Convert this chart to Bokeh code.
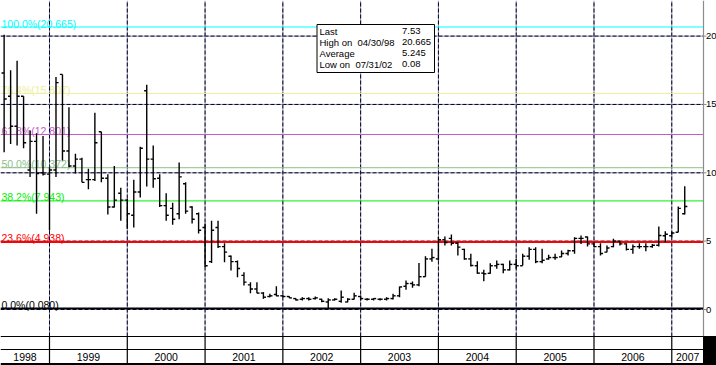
import numpy as np
import pandas as pd
from bokeh.plotting import figure
from bokeh.models import Range1d
from bokeh.core.properties import value
from bokeh.embed import file_html
from bokeh.resources import INLINE

# ---------------- data (monthly OHLC, May 1998 .. Feb 2007) ----------------
months = pd.period_range("1998-05", periods=106, freq="M")
opens = [17.3, 15.6, 13.4, 15.6, 10.2, 12.3, 10.0, 9.9, 10.2, 17.2,
         11.6, 10.5, 11.0, 9.5, 9.5, 13.0, 9.6, 7.5, 8.5, 8.0,
         6.9, 8.6, 16.0, 11.0, 9.6, 7.6, 7.4, 7.0, 9.2, 7.5,
         7.0, 6.0, 3.5, 6.0, 4.6, 3.9, 3.5, 2.5, 1.8, 1.5,
         1.2, 0.95, 1.1, 1.0, 0.95, 0.8, 0.75, 0.8, 0.8, 0.75,
         0.55, 0.7, 0.6, 0.55, 0.75, 0.95, 0.75, 0.75, 0.75, 0.75,
         0.8, 1.0, 1.7, 1.9, 1.8, 2.4, 3.7, 3.7, 5.1, 5.2,
         4.85, 4.4, 3.7, 3.2, 2.66, 2.65, 3.2, 3.3, 2.9, 3.3,
         3.2, 3.9, 4.4, 3.5, 3.7, 3.8, 3.85, 4.1, 4.3, 5.2,
         5.3, 4.8, 4.6, 4.2, 4.6, 5.0, 4.8, 4.4, 4.6, 4.6,
         4.6, 4.7, 5.4, 5.4, 5.65, 7.0]
highs = [20.1, 17.5, 18.2, 15.6, 13.1, 12.9, 12.7, 10.4, 17.0, 17.2,
         14.8, 11.4, 11.1, 10.3, 14.4, 13.0, 9.9, 10.5, 8.9, 8.1,
         9.5, 11.9, 16.45, 12.0, 9.9, 8.5, 7.8, 10.75, 9.3, 7.55,
         7.1, 6.3, 6.5, 6.5, 4.85, 3.95, 3.58, 2.73, 2.0, 2.0,
         1.27, 1.15, 1.7, 1.08, 0.97, 0.83, 0.9, 0.9, 0.95, 0.78,
         0.83, 0.83, 1.39, 0.83, 1.22, 1.02, 0.83, 0.83, 0.83, 0.9,
         1.15, 1.68, 2.12, 2.05, 3.4, 3.9, 4.45, 5.3, 5.34, 5.49,
         4.92, 4.44, 4.07, 3.53, 2.9, 3.39, 3.58, 3.34, 3.58, 3.7,
         4.07, 4.56, 4.56, 4.44, 4.0, 4.07, 4.32, 4.37, 5.29, 5.41,
         5.34, 4.92, 4.85, 4.68, 5.17, 5.0, 4.85, 4.75, 4.85, 4.85,
         4.8, 6.07, 5.73, 5.7, 7.53, 9.02]
lows = [11.5, 12.1, 12.0, 11.8, 9.7, 7.0, 9.8, 5.8, 9.7, 10.9,
        10.4, 9.95, 9.3, 8.8, 9.4, 9.3, 6.95, 7.46, 6.5, 5.9,
        6.0, 8.2, 9.0, 8.9, 7.5, 6.5, 6.2, 6.6, 7.0, 6.3,
        5.56, 3.1, 3.4, 4.5, 3.46, 2.85, 2.36, 1.76, 1.19, 1.19,
        0.78, 0.9, 0.97, 0.9, 0.83, 0.66, 0.66, 0.66, 0.73, 0.53,
        0.08, 0.66, 0.49, 0.53, 0.73, 0.66, 0.66, 0.66, 0.66, 0.66,
        0.73, 0.9, 1.44, 1.59, 1.7, 2.4, 3.5, 3.6, 4.68, 4.68,
        3.95, 3.64, 3.15, 2.61, 2.07, 2.61, 2.98, 2.66, 2.85, 2.98,
        3.22, 3.64, 3.39, 3.39, 3.64, 3.64, 3.83, 3.95, 4.07, 4.8,
        4.61, 4.56, 3.95, 4.19, 4.56, 4.68, 4.32, 4.07, 4.44, 4.27,
        4.51, 4.6, 4.92, 5.29, 5.65, 6.95]
closes = [15.4, 13.4, 15.6, 12.2, 12.3, 9.95, 9.9, 10.2, 16.6, 11.6,
          10.5, 11.0, 9.3, 9.5, 12.2, 9.6, 7.5, 8.0, 8.0, 7.0,
          8.6, 11.8, 11.0, 9.56, 7.6, 6.9, 6.6, 9.7, 7.2, 6.6,
          5.8, 3.2, 5.8, 4.6, 4.2, 3.5, 3.0, 2.0, 1.5, 1.2,
          0.9, 1.0, 1.0, 0.95, 0.85, 0.7, 0.8, 0.75, 0.85, 0.6,
          0.7, 0.75, 0.9, 0.75, 1.0, 0.8, 0.75, 0.8, 0.75, 0.8,
          1.0, 1.65, 1.9, 1.8, 2.4, 3.7, 3.8, 5.1, 4.9, 4.85,
          4.56, 3.7, 3.22, 2.66, 2.61, 3.2, 3.3, 2.9, 3.3, 3.2,
          3.9, 4.4, 3.5, 3.6, 3.8, 3.8, 4.1, 4.3, 5.2, 5.2,
          4.8, 4.6, 4.1, 4.5, 5.0, 4.8, 4.4, 4.6, 4.6, 4.6,
          4.7, 5.41, 5.5, 5.6, 7.4, 7.53]

fib_levels = [100.0, 76.4, 61.8, 50.0, 38.2, 23.6, 0.0]
fib_prices = [20.665, 15.807, 12.801, 10.372, 7.943, 4.938, 0.080]
fib_colors = ["#00FFFF", "#EEEE9A", "#C85AC8", "#8CC08C", "#00F000", "#FF0000", "#000000"]
fib_widths = [1, 1, 1, 1, 1, 2, 1.6]

y_ticks = [0, 5, 10, 15, 20]

summary_labels = ["Last", "High on \u00a004/30/98", "Average", "Low on \u00a007/31/02"]
summary_values = ["7.53", "20.665", "5.245", "0.08"]

# ---------------- layout (screen geometry) ----------------
W, H = 716, 365
PLOT_R, PLOT_B = 703, 336
BAR0_PX, PX_PER_BAR = 3.63, 6.482
ZERO_PY, PX_PER_UNIT = 309.0, 13.67

def sx(px):
    return (px - BAR0_PX) / PX_PER_BAR

def sy(py):
    return (ZERO_PY - py) / PX_PER_UNIT

X0, X1 = sx(0), sx(W)
Y0, Y1 = sy(H), sy(0)
FONT = value("Liberation Sans")

p = figure(width=W, height=H, x_range=Range1d(X0, X1), y_range=Range1d(Y0, Y1),
           x_axis_type=None, y_axis_type=None, toolbar_location=None,
           output_backend="svg", min_border=0)
p.grid.visible = False
p.outline_line_color = None
p.background_fill_color = "white"
p.border_fill_color = "white"

x = np.arange(len(months))
dec_idx = [i for i, m in enumerate(months) if m.month == 12]
years = sorted({m.year for m in months})

xr = sx(PLOT_R)
yb = sy(PLOT_B)

# horizontal grid (dashed navy over gray)
p.segment(x0=[X0] * len(y_ticks), y0=y_ticks, x1=[xr] * len(y_ticks), y1=y_ticks,
          line_color="#9a9a9a", line_width=1)
p.segment(x0=[X0] * len(y_ticks), y0=y_ticks, x1=[xr] * len(y_ticks), y1=y_ticks,
          line_color="#00003c", line_width=1, line_dash="4 2")
# vertical year separators in plot
p.segment(x0=dec_idx, y0=[yb] * len(dec_idx), x1=dec_idx, y1=[Y1] * len(dec_idx),
          line_color="#9a9a9a", line_width=1)
p.segment(x0=dec_idx, y0=[yb] * len(dec_idx), x1=dec_idx, y1=[Y1] * len(dec_idx),
          line_color="#00003c", line_width=1, line_dash="4 2")

# fibonacci retracement lines and labels
p.segment(x0=[X0] * len(fib_prices), y0=fib_prices, x1=[xr] * len(fib_prices), y1=fib_prices,
          line_color=fib_colors, line_width=fib_widths)
fib_text = [f"{lv:.1f}%({pr:.3f})" for lv, pr in zip(fib_levels, fib_prices)]
p.text(x=[sx(1)] * len(fib_prices), y=[pr + 3.5 / PX_PER_UNIT for pr in fib_prices],
       text=fib_text, text_color=fib_colors, text_font=FONT, text_font_size="10.5px",
       text_baseline="alphabetic", text_align="left")

# OHLC bars
tick = 0.4
p.segment(x0=x, y0=lows, x1=x, y1=highs, line_color="black", line_width=1.4)
p.segment(x0=x - tick, y0=opens, x1=x, y1=opens, line_color="black", line_width=1.4)
p.segment(x0=x, y0=closes, x1=x + tick, y1=closes, line_color="black", line_width=1.4)

# right value axis
p.segment(x0=[xr], y0=[yb], x1=[xr], y1=[Y1], line_color="#8c8c8c", line_width=1.2)
p.segment(x0=[xr] * len(y_ticks), y0=y_ticks, x1=[sx(PLOT_R + 3)] * len(y_ticks), y1=y_ticks,
          line_color="#8c8c8c", line_width=1)
p.text(x=[sx(PLOT_R + 2.5)] * len(y_ticks), y=y_ticks, text=[str(t) for t in y_ticks],
       text_color="black", text_font=FONT, text_font_size="9.5px",
       text_baseline="middle", text_align="left")

# bottom year band
p.segment(x0=[X0, X0], y0=[yb, sy(349)], x1=[xr, xr], y1=[yb, sy(349)],
          line_color="black", line_width=1)
p.segment(x0=dec_idx, y0=[yb] * len(dec_idx), x1=dec_idx, y1=[sy(363)] * len(dec_idx),
          line_color="black", line_width=1.2)
p.segment(x0=[X0], y0=[sy(363.8)], x1=[X1], y1=[sy(363.8)], line_color="black", line_width=2.6)
p.quad(left=[xr], right=[X1], bottom=[Y0], top=[yb], color="black")
edges = [X0] + dec_idx + [xr]
centers = [(a + b) / 2 for a, b in zip(edges[:-1], edges[1:])]
p.text(x=centers, y=[sy(356.5)] * len(years), text=[str(yr) for yr in years],
       text_color="black", text_font=FONT, text_font_size="10.5px",
       text_baseline="middle", text_align="center")

# summary box
p.quad(left=[sx(316.5)], right=[sx(434)], top=[sy(24)], bottom=[sy(72)],
       fill_color="white", line_color="black", line_width=1)
rows_y = [sy(30.7 + 11 * i) for i in range(len(summary_labels))]
p.text(x=[sx(319)] * len(summary_labels), y=rows_y, text=summary_labels,
       text_color="black", text_font=FONT, text_font_size="9.5px",
       text_baseline="middle", text_align="left")
p.text(x=[sx(401.5)] * len(summary_values), y=rows_y, text=summary_values,
       text_color="black", text_font=FONT, text_font_size="9.5px",
       text_baseline="middle", text_align="left")

open("out.html", "w").write(file_html(p, INLINE))
